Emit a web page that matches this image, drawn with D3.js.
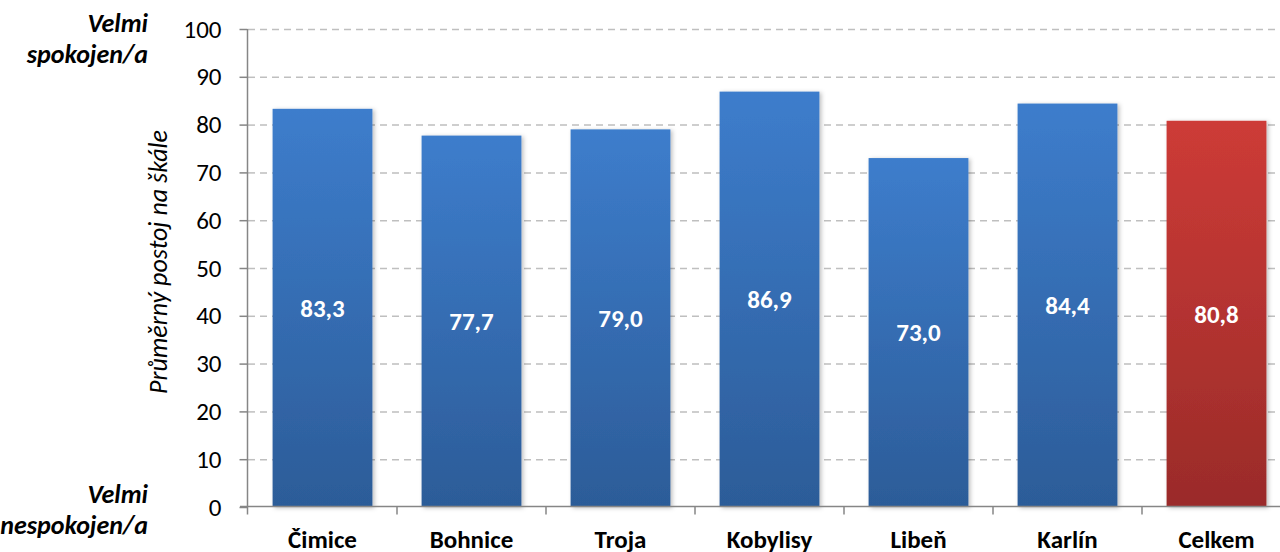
<!DOCTYPE html>
<html lang="cs">
<head>
<meta charset="UTF-8">
<title>Průměrný postoj na škále</title>
<script src="https://d3js.org/d3.v7.min.js"></script>
<style>
    body { margin: 0; background: #fff; }
    svg text { font-family: Carlito, Lato, "Open Sans", sans-serif; }
</style>
</head>
<body>
<svg id="chart"></svg>
<script>
    const categories = ["Čimice", "Bohnice", "Troja", "Kobylisy", "Libeň", "Karlín", "Celkem"];
    const values = [83.3, 77.7, 79.0, 86.9, 73.0, 84.4, 80.8];
    const yTicks = [0, 10, 20, 30, 40, 50, 60, 70, 80, 90, 100];

    const W = 1280, H = 552;
    const x0 = 248, x1 = 1291, yTop = 29, yBot = 507;

    const svg = d3.select("#chart").attr("width", W).attr("height", H);

    const defs = svg.append("defs");
    const blue = defs.append("linearGradient").attr("id", "gBlue")
        .attr("x1", 0).attr("y1", 0).attr("x2", 0).attr("y2", 1);
    blue.append("stop").attr("offset", "0%").attr("stop-color", "#3d7dcc");
    blue.append("stop").attr("offset", "100%").attr("stop-color", "#2c5c98");
    const red = defs.append("linearGradient").attr("id", "gRed")
        .attr("x1", 0).attr("y1", 0).attr("x2", 0).attr("y2", 1);
    red.append("stop").attr("offset", "0%").attr("stop-color", "#cd3b37");
    red.append("stop").attr("offset", "100%").attr("stop-color", "#9a2b29");
    const shadow = defs.append("filter").attr("id", "shadow")
        .attr("x", "-10%").attr("y", "-10%").attr("width", "130%").attr("height", "120%");
    shadow.append("feDropShadow").attr("dx", 2).attr("dy", 1).attr("stdDeviation", 2)
        .attr("flood-color", "#000").attr("flood-opacity", 0.25);

    const x = d3.scaleBand().domain(categories).range([x0, x1]).paddingInner(0.33).paddingOuter(0.165);
    const xb = d3.scaleBand().domain(categories).range([x0, x1]);
    const y = d3.scaleLinear().domain([0, 100]).range([yBot, yTop]);

    // gridlines
    svg.append("g").selectAll("line").data(yTicks.filter(d => d > 0)).enter().append("line")
        .attr("x1", x0).attr("x2", W)
        .attr("y1", d => y(d) + 0.5).attr("y2", d => y(d) + 0.5)
        .attr("stroke", "#bfbfbf").attr("stroke-width", 1.5)
        .attr("stroke-dasharray", "7,5");

    // bars
    svg.append("g").selectAll("rect").data(values).enter().append("rect")
        .attr("x", (d, i) => x(categories[i]))
        .attr("width", x.bandwidth())
        .attr("y", d => y(d))
        .attr("height", d => yBot - y(d))
        .attr("fill", (d, i) => categories[i] === "Celkem" ? "url(#gRed)" : "url(#gBlue)")
        .attr("filter", "url(#shadow)");

    // value labels
    svg.append("g").selectAll("text").data(values).enter().append("text")
        .attr("x", (d, i) => x(categories[i]) + x.bandwidth() / 2)
        .attr("y", d => y(d / 2))
        .attr("dy", "0.35em")
        .attr("text-anchor", "middle")
        .attr("fill", "#fff")
        .attr("font-weight", "bold")
        .attr("font-size", 25)
        .text(d => d.toFixed(1).replace(".", ","));

    // y axis
    const yAxis = svg.append("g").attr("transform", `translate(${x0 - 0.5},0)`)
        .call(d3.axisLeft(y).tickValues(yTicks).tickSize(8).tickPadding(18));
    yAxis.selectAll("path, line").attr("stroke", "#868686").attr("stroke-width", 1.5);
    yAxis.select(".domain").attr("d", `M0,${yTop}V${yBot}`);
    yAxis.selectAll("text").attr("font-size", 25).attr("fill", "#000")
        .style("font-family", "Carlito, Lato, 'Open Sans', sans-serif");

    // x axis
    const xAxis = svg.append("g").attr("transform", `translate(0,${yBot - 0.5})`);
    xAxis.append("line").attr("x1", x0 - 8).attr("x2", W)
        .attr("stroke", "#868686").attr("stroke-width", 1.5);
    xAxis.selectAll(".tk").data(categories.slice(1)).enter().append("line")
        .attr("x1", d => xb(d)).attr("x2", d => xb(d))
        .attr("y1", 0).attr("y2", 8)
        .attr("stroke", "#868686").attr("stroke-width", 1.5);
    xAxis.append("line").attr("x1", x0 - 0.5).attr("x2", x0 - 0.5).attr("y1", 0).attr("y2", 8)
        .attr("stroke", "#868686").attr("stroke-width", 1.5);
    xAxis.selectAll("text").data(categories).enter().append("text")
        .attr("x", d => xb(d) + xb.bandwidth() / 2)
        .attr("y", 41)
        .attr("text-anchor", "middle")
        .attr("font-weight", "bold")
        .attr("font-size", 25)
        .text(d => d);

    // axis title
    svg.append("text")
        .attr("transform", `translate(167,262) rotate(-90)`)
        .attr("text-anchor", "middle")
        .attr("font-style", "italic")
        .attr("font-size", 26)
        .text("Průměrný postoj na škále");

    // scale end labels
    const ends = [
        { lines: ["Velmi", "spokojen/a"], y: 32 },
        { lines: ["Velmi", "nespokojen/a"], y: 503 }
    ];
    ends.forEach(e => {
        e.lines.forEach((t, i) => {
            svg.append("text")
                .attr("x", 148).attr("y", e.y + i * 31)
                .attr("text-anchor", "end")
                .attr("font-weight", "bold").attr("font-style", "italic")
                .attr("font-size", 26)
                .text(t);
        });
    });
</script>
</body>
</html>
